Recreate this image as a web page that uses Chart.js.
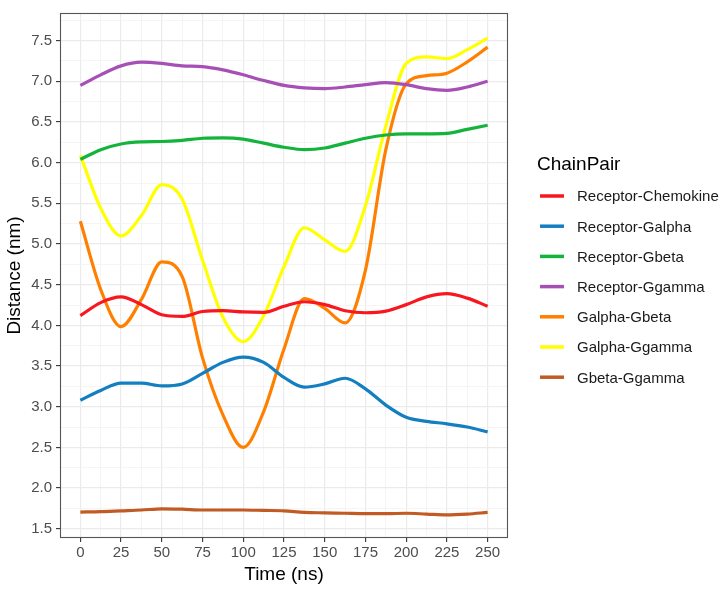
<!DOCTYPE html>
<html><head><meta charset="utf-8">
<script src="https://cdn.jsdelivr.net/npm/chart.js@4"></script>
<style>html,body{margin:0;padding:0;background:#fff}canvas{display:block}</style>
</head><body>
<canvas id="c" width="727" height="589"></canvas>
<script>
// ---- data ----
const timeNs = [0,12.5,25,37.5,50,62.5,75,87.5,100,112.5,125,137.5,150,162.5,175,187.5,200,212.5,225,237.5,250];
const receptorChemokine = [4.12,4.28,4.35,4.255,4.13,4.11,4.17,4.18,4.165,4.16,4.235,4.29,4.255,4.18,4.155,4.175,4.255,4.35,4.39,4.335,4.235];
const receptorGalpha    = [3.08,3.20,3.29,3.29,3.255,3.28,3.41,3.545,3.61,3.545,3.36,3.24,3.28,3.35,3.22,3.02,2.87,2.82,2.79,2.75,2.69];
const receptorGbeta     = [6.04,6.16,6.23,6.255,6.26,6.275,6.30,6.305,6.29,6.24,6.19,6.16,6.18,6.24,6.30,6.34,6.355,6.355,6.36,6.41,6.46];
const receptorGgamma    = [6.95,7.08,7.19,7.235,7.22,7.19,7.18,7.14,7.08,7.01,6.95,6.92,6.91,6.93,6.96,6.985,6.96,6.91,6.89,6.93,7.00];
const galphaGbeta       = [5.28,4.44,3.985,4.32,4.78,4.60,3.60,2.90,2.50,2.94,3.71,4.33,4.21,4.03,4.68,6.16,6.97,7.07,7.10,7.24,7.42];
const galphaGgamma      = [6.09,5.44,5.10,5.35,5.73,5.55,4.80,4.10,3.80,4.12,4.72,5.20,5.05,4.91,5.47,6.45,7.22,7.30,7.28,7.39,7.53];
const gbetaGgamma       = [1.705,1.71,1.72,1.73,1.745,1.74,1.73,1.73,1.73,1.725,1.72,1.70,1.695,1.69,1.685,1.685,1.69,1.68,1.67,1.68,1.70];

const seriesNames  = ['Receptor-Chemokine','Receptor-Galpha','Receptor-Gbeta','Receptor-Ggamma','Galpha-Gbeta','Galpha-Ggamma','Gbeta-Ggamma'];
const seriesValues = [receptorChemokine, receptorGalpha, receptorGbeta, receptorGgamma, galphaGbeta, galphaGgamma, gbetaGgamma];
const seriesColors = ['#F8171F','#137FC1','#13B33C','#A650B5','#FF8000','#FFFF00','#C25A24'];

const xTicks = [0,25,50,75,100,125,150,175,200,225,250];
const yTicks = [1.5,2.0,2.5,3.0,3.5,4.0,4.5,5.0,5.5,6.0,6.5,7.0,7.5];
const xMinorTicks = [12.5,37.5,62.5,87.5,112.5,137.5,162.5,187.5,212.5,237.5];
const yMinorTicks = [1.75,2.25,2.75,3.25,3.75,4.25,4.75,5.25,5.75,6.25,6.75,7.25,7.75];

const xTitle = 'Time (ns)';
const yTitle = 'Distance (nm)';
const legendTitle = 'ChainPair';

// ---- chart ----
const FONT = "'Liberation Sans', Arial, sans-serif";
Chart.defaults.font.family = FONT;

const datasets = seriesNames.map((name, i) => ({
  label: name,
  data: timeNs.map((t, j) => ({x: t, y: seriesValues[i][j]})),
  borderColor: seriesColors[i],
  backgroundColor: seriesColors[i],
  borderWidth: 3.2,
  pointRadius: 0,
  cubicInterpolationMode: 'monotone',
  fill: false
}));

const isMajorX = v => xTicks.includes(v);
const isMajorY = v => yTicks.some(t => Math.abs(t - v) < 1e-6);

const panelPlugin = {
  id: 'panelBorder',
  afterDraw(chart) {
    const {ctx, chartArea: a} = chart;
    ctx.save();
    ctx.strokeStyle = '#555555';
    ctx.lineWidth = 1.1;
    ctx.strokeRect(a.left + 0.5, a.top + 0.5, a.right - a.left - 1, a.bottom - a.top - 1);
    ctx.restore();
  }
};

const legendPlugin = {
  id: 'ggLegend',
  afterDraw(chart) {
    const ctx = chart.ctx;
    ctx.save();
    ctx.textAlign = 'left';
    ctx.textBaseline = 'alphabetic';
    ctx.fillStyle = '#000';
    ctx.font = '19px ' + FONT;
    ctx.fillText(legendTitle, 537, 169.5);
    ctx.font = '15px ' + FONT;
    chart.data.datasets.forEach((ds, i) => {
      const y = 196 + i * 30.2;
      ctx.strokeStyle = ds.borderColor;
      ctx.lineWidth = 3.5;
      ctx.beginPath();
      ctx.moveTo(540, y);
      ctx.lineTo(564, y);
      ctx.stroke();
      ctx.fillStyle = '#1a1a1a';
      ctx.fillText(ds.label, 577, y + 5.4);
    });
    ctx.restore();
  }
};

new Chart(document.getElementById('c'), {
  type: 'line',
  data: { datasets },
  plugins: [panelPlugin, legendPlugin],
  options: {
    responsive: false,
    animation: false,
    devicePixelRatio: 1,
    layout: { padding: { top: 7, right: 219, bottom: 0, left: 0 } },
    plugins: { legend: { display: false }, tooltip: { enabled: false } },
    scales: {
      x: {
        type: 'linear',
        min: -12.5, max: 262.5,
        afterBuildTicks: s => { s.ticks = xTicks.concat(xMinorTicks).sort((a,b)=>a-b).map(v => ({value: v})); },
        afterFit: s => { s.height = 51; },
        ticks: {
          autoSkip: false, maxRotation: 0, minRotation: 0,
          color: '#4d4d4d', font: { size: 15 }, padding: 2,
          callback: v => isMajorX(v) ? String(v) : ''
        },
        grid: {
          color: c => isMajorX(c.tick.value) ? '#EBEBEB' : '#F2F2F2',
          lineWidth: c => isMajorX(c.tick.value) ? 1.2 : 0.8,
          tickLength: 4,
          tickColor: c => isMajorX(c.tick.value) ? '#333333' : 'rgba(0,0,0,0)',
          tickWidth: 1.1
        },
        border: { display: false },
        title: { display: true, text: xTitle, color: '#000', font: { size: 19 }, padding: { top: 0, bottom: 3 } }
      },
      y: {
        type: 'linear',
        min: 1.386, max: 7.84,
        afterBuildTicks: s => { s.ticks = yTicks.concat(yMinorTicks).sort((a,b)=>a-b).map(v => ({value: v})); },
        afterFit: s => { s.width = 60; },
        ticks: {
          autoSkip: false,
          color: '#4d4d4d', font: { size: 15 }, padding: 4,
          callback: v => isMajorY(v) ? v.toFixed(1) : ''
        },
        grid: {
          color: c => isMajorY(c.tick.value) ? '#EBEBEB' : '#F2F2F2',
          lineWidth: c => isMajorY(c.tick.value) ? 1.2 : 0.8,
          tickLength: 4,
          tickColor: c => isMajorY(c.tick.value) ? '#333333' : 'rgba(0,0,0,0)',
          tickWidth: 1.1
        },
        border: { display: false },
        title: { display: true, text: yTitle, color: '#000', font: { size: 19 }, padding: { top: 3, bottom: 0 } }
      }
    }
  }
});
</script>
</body></html>
